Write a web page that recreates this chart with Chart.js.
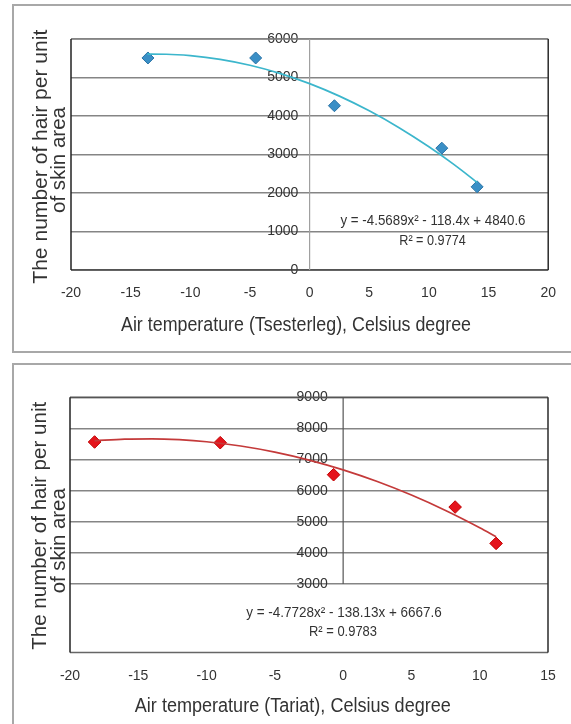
<!DOCTYPE html>
<html><head><meta charset="utf-8">
<script src="https://cdn.jsdelivr.net/npm/chart.js@4/dist/chart.umd.min.js"></script>
<style>
html,body{margin:0;padding:0;background:#fff;width:571px;height:724px;overflow:hidden;}
.box{position:absolute;border:2px solid #a8a8a8;box-sizing:border-box;}
#b1{left:12px;top:4px;width:600px;height:349px;}
#b2{left:12px;top:363px;width:600px;height:400px;}
.cw{position:absolute;left:0;width:571px;}
#w1{top:0;height:358px;}
#w2{top:358px;height:366px;}
canvas{display:block;}
</style></head><body>
<div class="box" id="b1"></div><div class="box" id="b2"></div>
<div class="cw" id="w1"><canvas id="c1" width="571" height="358" style="width:571px;height:358px"></canvas></div>
<div class="cw" id="w2"><canvas id="c2" width="571" height="366" style="width:571px;height:366px"></canvas></div>
<script>
// ---- Data: Tsesterleg ----
const tsTemps = [-13.55, -4.52, 2.08, 11.08, 14.04];
const tsHair = [5507, 5507, 4267, 3165, 2160];
const tsTrendX = [-13.6, -12, -10, -7.5, -5, -2.5, 0, 2.5, 5, 7.5, 10, 12, 14.05];
const tsTrendY = [5606, 5604, 5568, 5472, 5318, 5108, 4841, 4516, 4134, 3696, 3200, 2762, 2275];
const tsXTicks = [-20, -15, -10, -5, 0, 5, 10, 15, 20];
const tsYTicks = [0, 1000, 2000, 3000, 4000, 5000, 6000];
const tsYMin = 0;
const tsEquation = ["y = -4.5689x\u00B2 - 118.4x + 4840.6", "R\u00B2 = 0.9774"];
const tsXTitle = "Air temperature (Tsesterleg), Celsius degree";

// ---- Data: Tariat ----
const trTemps = [-18.2, -9.0, -0.7, 8.2, 11.2];
const trHair = [7564, 7542, 6513, 5474, 4306];
const trTrendX = [-18.2, -16, -14, -12, -10, -7.5, -5, -2.5, 0, 2.5, 5, 7.5, 10, 11.2];
const trTrendY = [7601, 7656, 7666, 7638, 7572, 7435, 7239, 6983, 6668, 6293, 5858, 5363, 4809, 4522];
const trXTicks = [-20, -15, -10, -5, 0, 5, 10, 15];
const trYTicks = [3000, 4000, 5000, 6000, 7000, 8000, 9000];
const trYMin = 800;
const trEquation = ["y = -4.7728x\u00B2 - 138.13x + 6667.6", "R\u00B2 = 0.9783"];
const trXTitle = "Air temperature (Tariat), Celsius degree";

const yTitleLines = ["The number of hair per unit", "of skin area"];

const FONT = '"Liberation Sans", Arial, sans-serif';

function fitText(ctx, text, cx, cy, size, width, color, rot) {
  ctx.save();
  ctx.font = size + 'px ' + FONT;
  ctx.fillStyle = color;
  ctx.textAlign = 'center';
  ctx.textBaseline = 'middle';
  const w = ctx.measureText(text).width;
  ctx.translate(cx, cy);
  if (rot) ctx.rotate(rot);
  ctx.scale(width ? width / w : 1, 1);
  ctx.fillText(text, 0, 0);
  ctx.restore();
}

function makeChart(id, cfg) {
  const decor = {
    id: 'decor',
    beforeDatasetsDraw(chart) {
      const {ctx, chartArea: a, scales: {x, y}} = chart;
      ctx.save();
      const seg = (x1, y1, x2, y2, c, w) => {
        ctx.beginPath(); ctx.strokeStyle = c; ctx.lineWidth = w;
        ctx.moveTo(x1, y1); ctx.lineTo(x2, y2); ctx.stroke();
      };
      // plot frame
      seg(a.left, a.top, a.right, a.top, cfg.frameTop, 1.5);
      seg(a.left, a.bottom, a.right, a.bottom, cfg.frameBottom, 1.5);
      seg(a.left, a.top, a.left, a.bottom, '#222', 1.5);
      seg(a.right, a.top, a.right, a.bottom, '#2a2a2a', 1.5);
      // vertical value axis at x = 0
      const x0 = x.getPixelForValue(0);
      const yTop = y.getPixelForValue(cfg.yTicks[cfg.yTicks.length - 1]);
      const yBot = y.getPixelForValue(cfg.yTicks[0]);
      seg(x0, yTop, x0, yBot, cfg.axisColor, 1.2);
      ctx.restore();
    },
    afterDraw(chart) {
      const {ctx} = chart;
      const t = cfg.text;
      fitText(ctx, cfg.xTitle, t.xTitle[0], t.xTitle[1], 20, t.xTitle[2], '#333');
      fitText(ctx, yTitleLines[0], t.y1[0], t.y1[1], 20, t.y1[2], '#333', -Math.PI / 2);
      fitText(ctx, yTitleLines[1], t.y2[0], t.y2[1], 20, t.y2[2], '#333', -Math.PI / 2);
      fitText(ctx, cfg.equation[0], t.eq[0], t.eq[1], 14.5, t.eq[2], '#333');
      fitText(ctx, cfg.equation[1], t.r2[0], t.r2[1], 14.5, t.r2[2], '#333');
    }
  };
  return new Chart(document.getElementById(id), {
    type: 'scatter',
    data: {
      datasets: [
        {
          label: 'trend',
          data: cfg.trendX.map((v, i) => ({x: v, y: cfg.trendY[i]})),
          showLine: true,
          cubicInterpolationMode: 'monotone',
          borderColor: cfg.lineColor,
          borderWidth: 1.7,
          pointRadius: 0,
          fill: false,
          order: 0
        },
        {
          label: 'data',
          data: cfg.temps.map((v, i) => ({x: v, y: cfg.hair[i]})),
          pointStyle: 'rectRot',
          pointRadius: cfg.markerR,
          backgroundColor: cfg.markerFill,
          borderColor: cfg.markerBorder,
          borderWidth: 1,
          order: 1
        }
      ]
    },
    options: {
      responsive: false,
      animation: false,
      events: [],
      layout: {padding: cfg.padding},
      plugins: {legend: {display: false}, tooltip: {enabled: false}, title: {display: false}},
      scales: {
        x: {
          type: 'linear',
          position: 'bottom',
          min: cfg.xTicks[0],
          max: cfg.xTicks[cfg.xTicks.length - 1],
          afterBuildTicks: (s) => { s.ticks = cfg.xTicks.map(v => ({value: v})); },
          afterFit: (s) => { s.height = 60; },
          grid: {display: false, drawTicks: false},
          border: {display: false},
          ticks: {
            padding: 15,
            color: '#333',
            font: {family: FONT, size: 14},
            maxRotation: 0,
            autoSkip: false,
            callback: (v) => String(v)
          }
        },
        y: {
          type: 'linear',
          position: {x: cfg.yLabelAt},
          min: cfg.yMin,
          max: cfg.yTicks[cfg.yTicks.length - 1],
          afterBuildTicks: (s) => { s.ticks = cfg.yTicks.map(v => ({value: v})); },
          grid: {color: '#858585', lineWidth: 1.6, drawTicks: false},
          border: {display: false},
          ticks: {
            padding: 0,
            color: '#333',
            font: {family: FONT, size: 14},
            callback: (v) => String(v)
          }
        }
      }
    },
    plugins: [decor]
  });
}

makeChart('c1', {
  temps: tsTemps, hair: tsHair, trendX: tsTrendX, trendY: tsTrendY,
  xTicks: tsXTicks, yTicks: tsYTicks, yMin: tsYMin,
  equation: tsEquation, xTitle: tsXTitle,
  padding: {top: 39, left: 71, right: 18, bottom: 28},
  yLabelAt: -0.95,
  lineColor: '#3cb6cc', markerFill: '#3a8fc6', markerBorder: '#2a73a6', markerR: 6,
  frameTop: '#858585', frameBottom: '#444', axisColor: '#a0a0a0',
  text: {
    xTitle: [296, 325, 350],
    y1: [41, 156.7, 254],
    y2: [59, 160, 106],
    eq: [433, 220.5, 185],
    r2: [432.5, 240.5, 66.5]
  }
});

makeChart('c2', {
  temps: trTemps, hair: trHair, trendX: trTrendX, trendY: trTrendY,
  xTicks: trXTicks, yTicks: trYTicks, yMin: trYMin,
  equation: trEquation, xTitle: trXTitle,
  padding: {top: 39.3, left: 70, right: 23, bottom: 11.5},
  yLabelAt: -1.13,
  lineColor: '#c43a3a', markerFill: '#e5141c', markerBorder: '#c00000', markerR: 6.3,
  frameTop: '#555', frameBottom: '#666', axisColor: '#555',
  text: {
    xTitle: [292.8, 348.7, 316],
    y1: [40, 167.8, 248],
    y2: [59, 182.8, 105],
    eq: [344, 254.7, 195.5],
    r2: [343, 273.7, 68]
  }
});
</script>
</body></html>
